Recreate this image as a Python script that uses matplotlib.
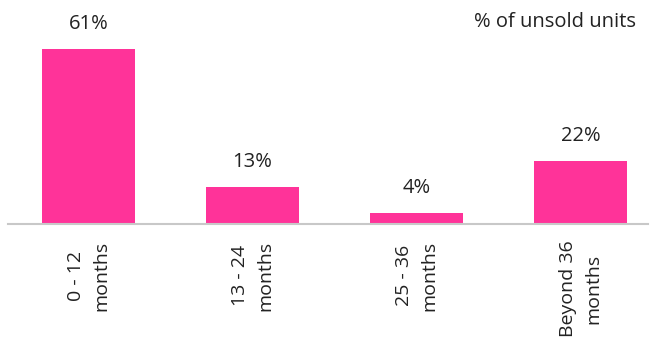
import matplotlib.pyplot as plt

# data
categories = ['0 - 12\nmonths', '13 - 24\nmonths', '25 - 36\nmonths', 'Beyond 36\nmonths']
values = [61, 13, 4, 22]

plt.rcParams['font.family'] = ['Open Sans', 'DejaVu Sans']

fig = plt.figure(figsize=(6.57, 3.38), dpi=100)
ax = fig.add_axes([8 / 657, 114 / 338, 640 / 657, 224 / 338])

x = range(len(values))
bars = ax.bar(x, values, width=0.57, color='#FF3399')

for xi, v in zip(x, values):
    ax.text(xi, v + 5, f'{v}%', ha='center', va='bottom', fontsize=14.5, color='#222222')

ax.set_xlim(-0.49, 3.41)
ax.set_ylim(0, 78)
ax.set_xticks(list(x))
ax.set_xticklabels(categories, rotation=90, ha='center', va='top',
                   multialignment='center', fontsize=14, color='#222222',
                   linespacing=1.55)
ax.tick_params(axis='x', length=0, pad=12)
ax.set_yticks([])

for s in ['top', 'right', 'left']:
    ax.spines[s].set_visible(False)
ax.spines['bottom'].set_color('#C8C8C8')
ax.spines['bottom'].set_linewidth(1.5)

fig.text(636 / 657, 1 - 22 / 338, '% of unsold units', ha='right', va='center',
         fontsize=14.5, color='#222222')

fig.savefig('out.png', dpi=100)
